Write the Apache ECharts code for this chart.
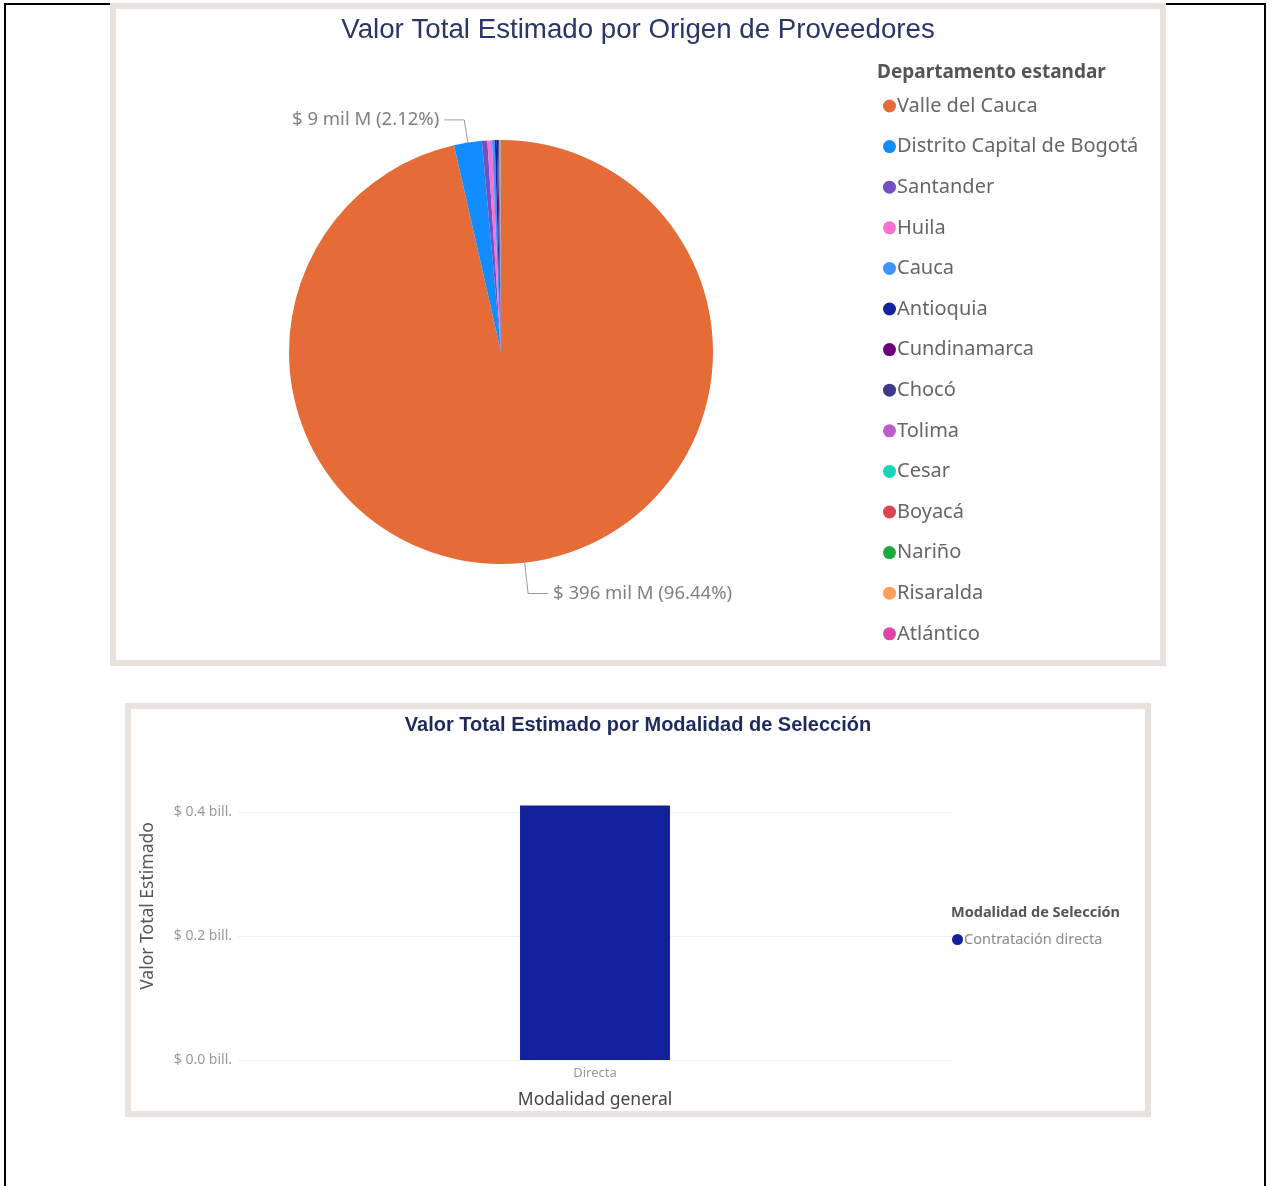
<!DOCTYPE html>
<html lang="es">
<head>
<meta charset="utf-8" />
<title>Valor Total Estimado</title>
<script src="https://cdn.jsdelivr.net/npm/echarts@6/dist/echarts.min.js"></script>
<style>
  body { margin: 0; background: #fff; width: 1273px; height: 1186px; position: relative; overflow: hidden; }
  .frame { position: absolute; left: 4px; top: 3px; width: 1262px; height: 1200px; border: 2px solid #000; border-bottom: none; box-sizing: border-box; }
  .panel { position: absolute; background: #fff; border: 6px solid #e8e1dd; box-sizing: border-box; }
  #p1 { left: 110px; top: 3px; width: 1056px; height: 663px; }
  #p2 { left: 125px; top: 703px; width: 1026px; height: 414px; }
  .chart { position: absolute; left: 0; top: 0; width: 100%; height: 100%; }
</style>
</head>
<body>
<div class="frame"></div>
<div class="panel" id="p1"><div class="chart" id="chartPie"></div></div>
<div class="panel" id="p2"><div class="chart" id="chartBar"></div></div>
<script>
// valores en miles de millones (mil M)
let departamentos = ['Valle del Cauca', 'Distrito Capital de Bogotá', 'Santander', 'Huila', 'Cauca', 'Antioquia',
  'Cundinamarca', 'Chocó', 'Tolima', 'Cesar', 'Boyacá', 'Nariño', 'Risaralda', 'Atlántico']
let valoresDepto = [396.0, 8.705, 1.7, 1.4, 0.9, 0.6, 0.4, 0.3, 0.22, 0.15, 0.11, 0.07, 0.04, 0.02]
let coloresDepto = ['#E66C37', '#118DFF', '#744EC2', '#F472D0', '#4092FF', '#12239E',
  '#6B007B', '#3D3A8C', '#BE5DC9', '#15D6B4', '#D64550', '#1AAB40', '#FFA058', '#E044A7']

// modalidad (billones)
let modalidades = ['Directa']
let valoresModalidad = [0.4106]
let modalidadLeyenda = 'Contratación directa'
let ticksY = [0, 0.2, 0.4]

let font = '"Noto Sans", "Open Sans", sans-serif'

let chartPie = echarts.init(document.getElementById('chartPie'))
chartPie.setOption({
  animation: false,
  title: [{
    text: 'Valor Total Estimado por Origen de Proveedores',
    left: 'center', top: 2,
    textStyle: { fontFamily: '"Liberation Sans", Arial, sans-serif', fontSize: 27.7, fontWeight: 'normal', color: '#2b3568' }
  }, {
    text: 'Departamento estandar',
    left: 756, top: 49,
    textStyle: { fontFamily: font, fontSize: 19, fontWeight: 'bold', color: '#555' }
  }],
  legend: {
    orient: 'vertical',
    left: 762, top: 82,
    icon: 'circle',
    itemWidth: 13, itemHeight: 13,
    itemGap: 20.6,
    textStyle: { fontFamily: font, fontSize: 20, color: '#666', lineHeight: 20, padding: [0, 0, 0, -4] },
    data: departamentos
  },
  series: [{
    type: 'pie',
    center: [385, 343],
    radius: 212,
    startAngle: 90,
    clockwise: true,
    label: {
      show: true,
      position: 'outside',
      fontFamily: font, fontSize: 18.5, color: '#808080',
      formatter: p => '$ ' + Math.round(p.value) + ' mil M (' + p.percent.toFixed(2) + '%)'
    },
    labelLine: { show: true, length: 27, length2: 20, lineStyle: { color: '#999', width: 1 } },
    data: departamentos.map((d, i) => ({
      name: d,
      value: valoresDepto[i],
      itemStyle: { color: coloresDepto[i] },
      label: { show: i < 2 },
      labelLine: { show: i < 2, length: i === 0 ? 31 : 23 }
    }))
  }]
})

let chartBar = echarts.init(document.getElementById('chartBar'))
chartBar.setOption({
  animation: false,
  title: [{
    text: 'Valor Total Estimado por Modalidad de Selección',
    left: 'center', top: 1,
    textStyle: { fontFamily: '"Liberation Sans", Arial, sans-serif', fontSize: 20, fontWeight: 'bold', color: '#1f2a5c' }
  }, {
    text: 'Modalidad de Selección',
    left: 815, top: 191,
    textStyle: { fontFamily: font, fontSize: 14.5, fontWeight: 'bold', color: '#555' }
  }],
  legend: {
    left: 816, top: 218,
    icon: 'circle',
    itemWidth: 11, itemHeight: 11,
    textStyle: { fontFamily: font, fontSize: 14.5, color: '#8a8a8a', padding: [0, 0, 0, -4] },
    data: [modalidadLeyenda]
  },
  graphic: [{
    type: 'text',
    x: 17, y: 197,
    rotation: Math.PI / 2,
    style: {
      text: 'Valor Total Estimado',
      fontFamily: font, fontSize: 17.5, fill: '#555',
      align: 'center', verticalAlign: 'middle'
    }
  }],
  grid: { left: 107, right: 193, top: 103, bottom: 51, outerBoundsMode: 'none' },
  xAxis: {
    type: 'category',
    data: modalidades,
    name: 'Modalidad general',
    nameLocation: 'middle',
    nameGap: 31,
    nameTextStyle: { fontFamily: font, fontSize: 17.5, color: '#444' },
    axisLine: { show: false },
    axisTick: { show: false },
    axisLabel: { fontFamily: font, fontSize: 13, color: '#999', margin: 7 }
  },
  yAxis: {
    type: 'value',
    min: ticksY[0], max: ticksY[ticksY.length - 1], interval: 0.2,
    axisLine: { show: false },
    axisTick: { show: false },
    axisLabel: {
      fontFamily: font, fontSize: 14, color: '#999', margin: 6,
      formatter: v => '$ ' + v.toFixed(1) + ' bill.'
    },
    splitLine: { lineStyle: { color: '#f0f0f0', width: 1 } }
  },
  series: [{
    type: 'bar',
    name: modalidadLeyenda,
    data: valoresModalidad,
    barWidth: '21%',
    clip: false,
    itemStyle: { color: '#13209E' }
  }]
})
</script>
</body>
</html>
